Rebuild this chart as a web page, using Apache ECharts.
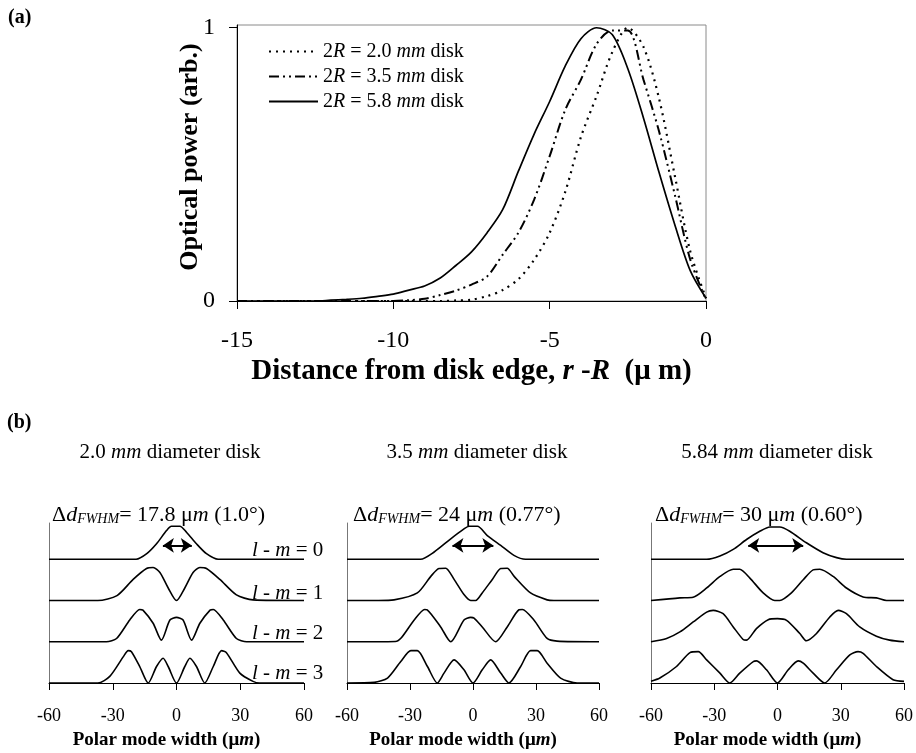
<!DOCTYPE html>
<html>
<head>
<meta charset="utf-8">
<script src="https://cdn.jsdelivr.net/npm/echarts@6/dist/echarts.min.js"></script>
<style>html,body{margin:0;padding:0;background:#fff;}#c{width:916px;height:753px;}</style>
</head>
<body>
<div id="c"></div>
<script>
// ---------- Panel (a) data ----------
const distX = [-15,-14.5,-14,-13.5,-13,-12.5,-12,-11.5,-11,-10.5,-10,-9.5,-9,-8.5,-8,-7.5,-7,-6.5,-6,-5.5,-5,-4.5,-4,-3.5,-3,-2.5,-2,-1.5,-1,-0.5,0];
const disk20 = [0,0,0,0,0,0,0,0,0,0,0,0,0,0,0.002,0.005,0.018,0.04,0.08,0.15,0.25,0.40,0.60,0.75,0.91,1.0,0.93,0.74,0.46,0.18,0.01];
const disk35 = [0,0,0,0,0,0,0,0,0,0,0,0.003,0.008,0.022,0.038,0.06,0.09,0.17,0.25,0.37,0.53,0.70,0.81,0.94,0.99,0.99,0.81,0.62,0.39,0.15,0.005];
const disk58 = [0,0,0,0,0,0,0.003,0.006,0.01,0.017,0.025,0.04,0.055,0.084,0.13,0.18,0.25,0.335,0.475,0.61,0.73,0.86,0.96,1.0,0.975,0.85,0.67,0.47,0.28,0.11,0.01];
const diskNames = ['2R = 2.0 mm disk','2R = 3.5 mm disk','2R = 5.8 mm disk'];
const xTicksA = [-15,-10,-5,0];
const yTicksA = [0,1];

// ---------- Panel (b) data : [width (um), normalized power] ----------
const modeLabels = ['l - m = 0','l - m = 1','l - m = 2','l - m = 3'];
const modeOffsets = [3.75, 2.5, 1.25, 0];
const d20m0 = [[-60,0],[-19,0],[-14,0.17],[-9.4,0.47],[-4.7,0.87],[-2.4,1],[1.6,1],[4.7,0.82],[9.4,0.47],[14.1,0.17],[19.6,0],[60,0]];
const d20m1 = [[-60,0],[-37,0],[-28,0.15],[-20.4,0.64],[-14.1,0.97],[-11,1],[-7.8,0.85],[-3.9,0.38],[0,0],[3.9,0.38],[7.8,0.85],[11,1],[14.1,0.97],[20.4,0.64],[28.2,0.17],[36,0.02],[60,0]];
const d20m2 = [[-60,0],[-33,0],[-28.2,0.1],[-22,0.66],[-17.3,0.98],[-15.8,0.96],[-11,0.56],[-7.1,0.05],[-3.1,0.66],[0,0.74],[3.1,0.66],[7.1,0.05],[11,0.56],[15.8,0.96],[17.3,0.98],[22,0.66],[28.2,0.1],[33,0],[60,0]];
const d20m3 = [[-60,0],[-37,0],[-31.4,0.2],[-25,0.8],[-22.7,0.98],[-21.2,0.95],[-17.3,0.5],[-13.3,0],[-9.4,0.5],[-6.3,0.75],[-3.9,0.5],[0,0],[3.9,0.5],[6.3,0.75],[9.4,0.5],[13.3,0],[17.3,0.5],[21.2,0.98],[23.5,0.92],[29.8,0.3],[36,0.05],[39,0],[60,0]];

const d35m0 = [[-60,0],[-25,0],[-18.5,0.22],[-10.6,0.62],[-4.3,0.92],[-1.9,1],[2.1,1],[6.8,0.72],[13.2,0.42],[19.5,0.12],[25,0],[60,0]];
const d35m1 = [[-60,0],[-45,0],[-37.6,0.02],[-26.5,0.23],[-20,0.74],[-16.2,0.97],[-13,0.98],[-9,0.64],[-4.3,0.18],[-1.1,0],[1.3,0],[4.4,0.23],[9.2,0.64],[13.2,0.97],[16.3,0.98],[19.5,0.74],[27.4,0.23],[35.3,0.02],[38.5,0],[60,0]];
const d35m2 = [[-60,0],[-37,0.01],[-34,0.13],[-28,0.66],[-23,0.98],[-21.8,0.97],[-15.4,0.45],[-10.6,0],[-4.3,0.66],[-1.1,0.74],[0.5,0.72],[4.4,0.45],[10.8,0],[16.3,0.45],[21.9,0.97],[23.5,0.98],[29,0.66],[35.3,0.1],[40,0.02],[60,0]];
const d35m3 = [[-60,0],[-47,0.02],[-40.7,0.15],[-34.4,0.65],[-29.6,0.98],[-26.5,0.98],[-21.7,0.5],[-17,0],[-13.8,0.3],[-9,0.7],[-4.3,0.4],[0,0],[4.4,0.4],[8.4,0.7],[13.2,0.3],[17.1,0],[22.7,0.5],[27.4,0.98],[30.6,0.98],[35.3,0.6],[41.7,0.15],[49.6,0],[60,0]];

const d58m0 = [[-60,0],[-33.6,0],[-27.3,0.1],[-21,0.3],[-14.7,0.6],[-8.4,0.85],[-3.6,0.98],[1.1,0.98],[5.8,0.85],[13.7,0.5],[21.6,0.2],[28,0.05],[32.7,0],[60,0]];
const d58m1 = [[-60,0],[-46.3,0.08],[-40,0.1],[-33.6,0.38],[-27.3,0.73],[-21,0.95],[-17.9,0.95],[-13.1,0.68],[-6.8,0.23],[-1.3,0],[1.1,0],[6.6,0.23],[12.2,0.63],[16.9,0.93],[20.1,0.95],[26.4,0.73],[32.7,0.38],[40.6,0.11],[46.9,0.08],[51.7,0],[60,0]];
const d58m2 = [[-60,0],[-52.6,0.1],[-46.3,0.3],[-40,0.6],[-33.6,0.9],[-30.5,0.95],[-25.8,0.85],[-21,0.45],[-16.3,0.07],[-14.7,0.05],[-10,0.4],[-4.4,0.67],[0,0.7],[4.3,0.65],[10.6,0.25],[13.7,0.03],[18.5,0.25],[24.8,0.75],[28.8,0.95],[32.7,0.85],[39,0.45],[46.9,0.17],[53.2,0.05],[60,0]];
const d58m3 = [[-60,0.05],[-55.8,0.15],[-47.9,0.5],[-41.5,0.92],[-37.6,0.95],[-33.6,0.7],[-27.3,0.3],[-22.6,0],[-17.9,0.3],[-11.5,0.65],[-9.9,0.67],[-5.2,0.4],[0,0],[5.1,0.4],[9.8,0.67],[12.2,0.6],[16.9,0.3],[22.4,0],[28,0.4],[34.3,0.85],[38.2,0.95],[40.6,0.9],[46.9,0.5],[54.8,0.1],[60,0.05]];

const panelTitles = ['2.0 {i|mm} diameter disk','3.5 {i|mm} diameter disk','5.84 {i|mm} diameter disk'];
const fwhmValues = ['17.8','24','30'];
const fwhmAngles = ['1.0°','0.77°','0.60°'];
const arrowEnds = [[-6.4,7.2],[-9.8,9.7],[-13.9,12.2]];
const arrowLevel = 4.17;
const xTicksB = [-60,-30,0,30,60];

// ---------- build ----------
const SERIF = '"Liberation Serif","DejaVu Serif",serif';
const BLK = '#000';
const panels = [[d20m0,d20m1,d20m2,d20m3],[d35m0,d35m1,d35m2,d35m3],[d58m0,d58m1,d58m2,d58m3]];
const gridsB = [{left:49,right:612},{left:347,right:317},{left:651,right:12}];

const grids = [{left:237,right:210,top:25,bottom:452,show:true,borderColor:'#8a8a8a',borderWidth:1}];
gridsB.forEach(g => grids.push({left:g.left,right:g.right,top:523,bottom:70}));

const xAxes = [{
  gridIndex:0,type:'value',min:xTicksA[0],max:xTicksA[xTicksA.length-1],interval:5,
  axisLine:{show:true,onZero:false,lineStyle:{color:BLK,width:1}},
  axisTick:{show:true,length:8,lineStyle:{color:BLK}},
  axisLabel:{margin:28,fontFamily:SERIF,fontSize:24,color:BLK},
  splitLine:{show:false},
  name:'Distance from disk edge, {i|r} -{i|R}  (μ m)',nameLocation:'middle',nameGap:56,
  nameMoveOverlap:false,
  nameTextStyle:{fontFamily:SERIF,fontSize:29,fontWeight:'bold',color:BLK,
    rich:{i:{fontFamily:SERIF,fontSize:29,fontWeight:'bold',fontStyle:'italic',color:BLK}}}
}];
const yAxes = [{
  gridIndex:0,type:'value',min:0,max:1.01,interval:1,
  axisLine:{show:true,onZero:false,lineStyle:{color:BLK,width:1}},
  axisTick:{show:true,length:8,lineStyle:{color:BLK},customValues:yTicksA},
  axisLabel:{margin:22,fontFamily:SERIF,fontSize:24,color:BLK,customValues:yTicksA},
  splitLine:{show:false},
  name:'Optical power (arb.)',nameLocation:'middle',nameGap:34,
  nameMoveOverlap:false,
  nameTextStyle:{fontFamily:SERIF,fontSize:26,fontWeight:'bold',color:BLK,padding:[0,0,0,12]}
}];
for (let p=0;p<3;p++){
  xAxes.push({
    gridIndex:p+1,type:'value',min:xTicksB[0],max:xTicksB[xTicksB.length-1],interval:30,
    axisLine:{show:true,onZero:false,lineStyle:{color:BLK,width:1}},
    axisTick:{show:true,length:7,lineStyle:{color:BLK}},
    axisLabel:{margin:24,fontFamily:SERIF,fontSize:18,color:BLK},
    splitLine:{show:false},
    name:'Polar mode width (μ{i|m})',nameLocation:'middle',nameGap:48,
    nameTextStyle:{fontFamily:SERIF,fontSize:19,fontWeight:'bold',color:BLK,padding:[0,20,0,0],
      rich:{i:{fontFamily:SERIF,fontSize:19,fontWeight:'bold',fontStyle:'italic',color:BLK}}}
  });
  yAxes.push({
    gridIndex:p+1,type:'value',min:0,max:4.85,
    axisLine:{show:true,onZero:false,lineStyle:{color:'#777',width:1}},
    axisTick:{show:false},axisLabel:{show:false},splitLine:{show:false}
  });
}

const series = [];
const topSets = [disk20,disk35,disk58];
const topStyles = [
  {type:[2,5],width:2.2},
  {type:[10,4,2,4,2,4],width:2},
  {type:'solid',width:1.7}
];
topSets.forEach((vals,i)=>{
  series.push({
    name:diskNames[i],type:'line',xAxisIndex:0,yAxisIndex:0,
    data:distX.map((x,k)=>[x,vals[k]]),
    symbol:'none',smooth:0.3,
    lineStyle:Object.assign({color:BLK},topStyles[i]),
    itemStyle:{color:BLK}
  });
});
panels.forEach((modes,p)=>{
  modes.forEach((pts,m)=>{
    const s = {
      name:modeLabels[m]+' #'+p,type:'line',xAxisIndex:p+1,yAxisIndex:p+1,
      data:pts.map(([x,v])=>[x,v+modeOffsets[m]]),
      symbol:'none',smooth:0.25,
      lineStyle:{color:BLK,width:1.6},itemStyle:{color:BLK}
    };
    if (m===0){
      s.markLine = {
        silent:true,symbol:['arrow','arrow'],symbolSize:11,
        label:{show:false},
        lineStyle:{color:BLK,width:2,type:'solid'},
        data:[[{coord:[arrowEnds[p][0],arrowLevel]},{coord:[arrowEnds[p][1],arrowLevel]}]]
      };
    }
    series.push(s);
  });
});

function T(x,y,text,size,extra){
  return {type:'text',x:x,y:y,silent:true,
    style:Object.assign({text:text,fontFamily:SERIF,fontSize:size,fill:BLK,
      align:'left',verticalAlign:'middle',textAlign:'left',textVerticalAlign:'middle'},extra||{})};
}
const italic = s => ({fontFamily:SERIF,fontSize:s,fontStyle:'italic',fill:BLK,color:BLK});
const graphic = [];
graphic.push(T(8,18,'(a)',20,{fontWeight:'bold'}));
graphic.push(T(7,423,'(b)',20,{fontWeight:'bold'}));
const titleCenters = [170,477,777];
const fwhmLeft = [52,353,655];
for (let p=0;p<3;p++){
  graphic.push(T(titleCenters[p],452,panelTitles[p],21,{align:'center',textAlign:'center',rich:{i:italic(21)}}));
  graphic.push(T(fwhmLeft[p],515,'Δ{i|d}{sub|FWHM}= '+fwhmValues[p]+' μ{i|m} ('+fwhmAngles[p]+')',22,
    {rich:{i:italic(22),sub:Object.assign(italic(14),{verticalAlign:'bottom',lineHeight:15})}}));
}
const modeLabelY = [550,593,633,673];
modeLabels.forEach((lab,m)=>{
  const r = lab.replace('l','{i|l}').replace('m ','{i|m} ');
  graphic.push(T(252,modeLabelY[m],r,21,{rich:{i:italic(21)}}));
});

const option = {
  animation:false,
  backgroundColor:'#fff',
  legend:{
    data:diskNames,orient:'vertical',left:263,top:36,itemWidth:49,itemHeight:14,itemGap:4,
    itemStyle:{opacity:0},
    formatter:n=>n.replace('R','{i|R}').replace('mm','{i|mm}'),
    textStyle:{fontFamily:SERIF,fontSize:20,color:BLK,lineHeight:21,
      rich:{i:{fontFamily:SERIF,fontSize:20,fontStyle:'italic',color:BLK}}}
  },
  grid:grids,xAxis:xAxes,yAxis:yAxes,series:series,graphic:graphic
};
const chart = echarts.init(document.getElementById('c'),null,{renderer:'canvas'});
chart.setOption(option);
</script>
</body>
</html>
